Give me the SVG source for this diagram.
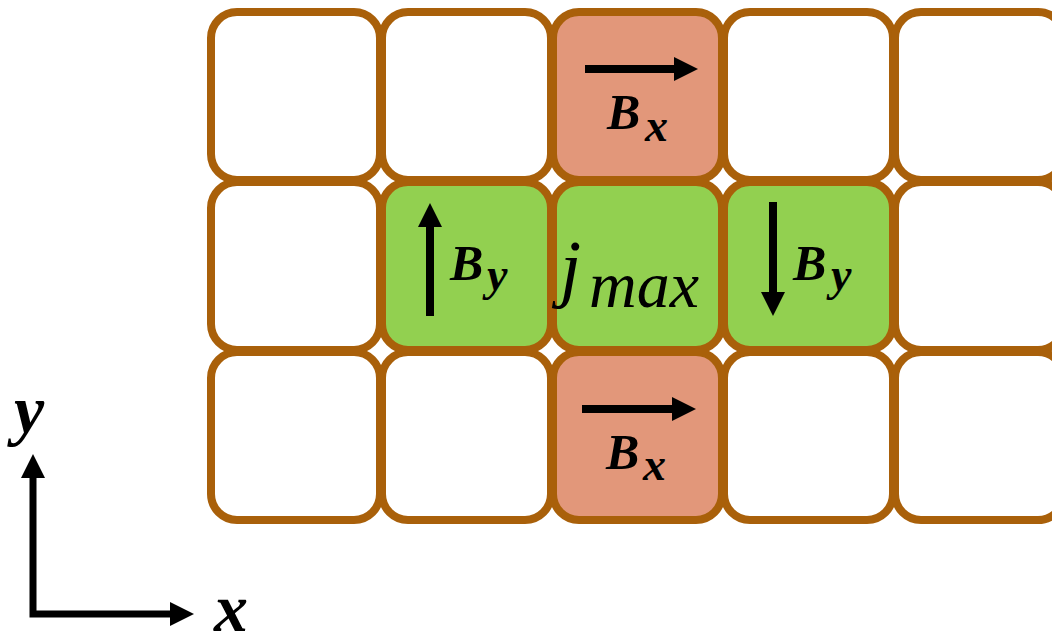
<svg xmlns="http://www.w3.org/2000/svg" width="1052" height="637" viewBox="0 0 1052 637">
<defs>
<style>
.cell{stroke:#A9600A;stroke-width:8;}
.w{fill:#FFFFFF;}
.g{fill:#92D050;}
.s{fill:#E2977A;}
.arr{stroke:#000;stroke-width:8;fill:none;marker-end:url(#head);}
.ax{stroke:#000;stroke-width:7;fill:none;}
.lb{font-family:"Liberation Serif","Times New Roman",serif;font-weight:bold;font-style:italic;fill:#000;}
.big{font-size:50px;}
.sub{font-size:46px;}
.axl{font-size:68px;}
.jm{font-family:"Liberation Serif","Times New Roman",serif;font-style:italic;fill:#000;}
</style>
<marker id="head" markerUnits="userSpaceOnUse" markerWidth="24" markerHeight="24" viewBox="0 0 24 24" refX="0" refY="12" orient="auto-start-reverse">
<path d="M0,0 L24,12 L0,24 Z" fill="#000"/>
</marker>
</defs>
<rect width="1052" height="637" fill="#FFFFFF"/>
<g id="c11"><rect class="cell w" x="211" y="12" width="169" height="168" rx="26"/></g>
<g id="c12"><rect class="cell w" x="382" y="12" width="169" height="168" rx="26"/></g>
<g id="c14"><rect class="cell w" x="724" y="12" width="169" height="168" rx="26"/></g>
<g id="c15"><rect class="cell w" x="895" y="12" width="169" height="168" rx="26"/></g>
<g id="c21"><rect class="cell w" x="211" y="182" width="169" height="168" rx="26"/></g>
<g id="c25"><rect class="cell w" x="895" y="182" width="169" height="168" rx="26"/></g>
<g id="c31"><rect class="cell w" x="211" y="352" width="169" height="168" rx="26"/></g>
<g id="c32"><rect class="cell w" x="382" y="352" width="169" height="168" rx="26"/></g>
<g id="c34"><rect class="cell w" x="724" y="352" width="169" height="168" rx="26"/></g>
<g id="c35"><rect class="cell w" x="895" y="352" width="169" height="168" rx="26"/></g>
<g id="bx-top">
<rect class="cell s" x="553" y="12" width="169" height="168" rx="26"/>
<line class="arr" x1="585" y1="69" x2="674" y2="69"/>
<text class="lb big" x="607" y="129">B</text><text class="lb sub" x="645" y="141">x</text>
</g>
<g id="by-left">
<rect class="cell g" x="382" y="182" width="169" height="168" rx="26"/>
<line class="arr" x1="430" y1="316" x2="430" y2="227"/>
<text class="lb big" x="450" y="280">B</text><text class="lb sub" x="487" y="290">y</text>
</g>
<g id="jmax">
<rect class="cell g" x="553" y="182" width="169" height="168" rx="26"/>
<text class="jm" x="560" y="293" font-size="76">j</text><text class="jm" x="589" y="307" font-size="66">max</text>
</g>
<g id="by-right">
<rect class="cell g" x="724" y="182" width="169" height="168" rx="26"/>
<line class="arr" x1="773" y1="202" x2="773" y2="292"/>
<text class="lb big" x="793" y="280">B</text><text class="lb sub" x="831" y="290">y</text>
</g>
<g id="bx-bottom">
<rect class="cell s" x="553" y="352" width="169" height="168" rx="26"/>
<line class="arr" x1="582" y1="409" x2="672" y2="409"/>
<text class="lb big" x="606" y="469">B</text><text class="lb sub" x="643" y="480">x</text>
</g>
<g id="axes">
<polyline class="ax" points="33,478 33,614 170,614" marker-start="url(#head)" marker-end="url(#head)"/>
<text class="lb axl" x="14" y="433">y</text>
<text class="lb axl" x="214" y="631">x</text>
</g>
</svg>
